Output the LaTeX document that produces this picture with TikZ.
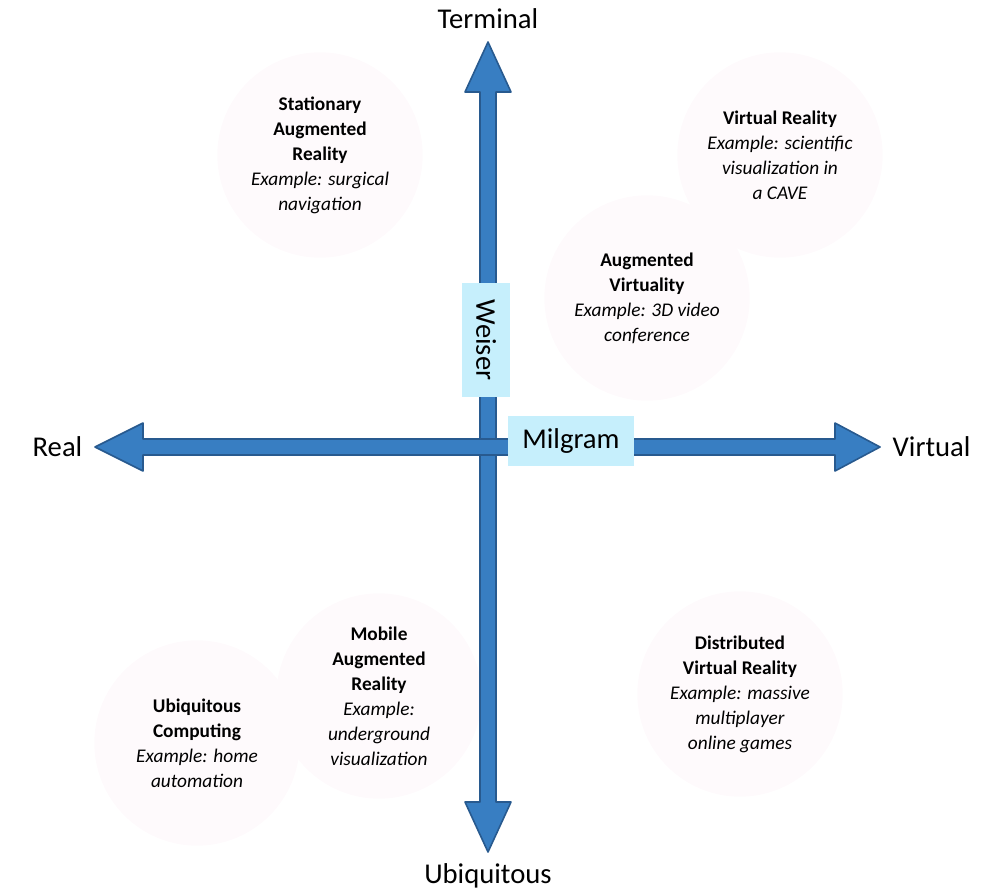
\documentclass[tikz,border=0pt]{standalone}
\usepackage{fontspec}
\setmainfont{Carlito}
\usetikzlibrary{positioning,calc}

\definecolor{axisblue}{RGB}{56,126,194}
\definecolor{axisedge}{RGB}{40,90,143}
\definecolor{tagcyan}{RGB}{198,239,252}
\definecolor{bubblefill}{RGB}{254,250,252}

\begin{document}
\begin{tikzpicture}[x=0.75pt, y=-0.75pt,
  bubble/.style={circle, fill=bubblefill, inner sep=0pt, minimum size=154pt, align=center, font=\fontsize{14.5}{18.75}\selectfont},
  axislabel/.style={font=\fontsize{21.5}{26}\selectfont},
  tagbox/.style={fill=tagcyan, inner sep=0pt, font=\fontsize{21.5}{26}\selectfont},
  axisarrow/.style={fill=axisblue, draw=axisedge, line width=1.2pt, line join=round}]
  \useasboundingbox (0,0) rectangle (987,891);

  % quadrant bubbles
  \node[bubble] (sar) at (320,155) {\textbf{Stationary}\\ \textbf{Augmented}\\ \textbf{Reality}\\ \textit{Example: surgical}\\ \textit{navigation}};
  \node[bubble] (vr) at (780,155) {\textbf{Virtual Reality}\\ \textit{Example: scientific}\\ \textit{visualization in}\\ \textit{a CAVE}};
  \node[bubble] (av) at (647,298) {\textbf{Augmented}\\ \textbf{Virtuality}\\ \textit{Example: 3D video}\\ \textit{conference}};
  \node[bubble] (ubc) at (197,743) {\textbf{Ubiquitous}\\ \textbf{Computing}\\ \textit{Example: home}\\ \textit{automation}};
  \node[bubble] (mar) at (379,696) {\textbf{Mobile}\\ \textbf{Augmented}\\ \textbf{Reality}\\ \textit{Example:}\\ \textit{underground}\\ \textit{visualization}};
  \node[bubble] (dvr) at (740,694) {\textbf{Distributed}\\ \textbf{Virtual Reality}\\ \textit{Example: massive}\\ \textit{multiplayer}\\ \textit{online games}};

  % axes
  \coordinate (top) at (488,42);
  \coordinate (bottom) at (488,852);
  \coordinate (left) at (95,447);
  \coordinate (right) at (880,447);
  \draw[axisarrow] (top) -- ++(23,50) -- ++(-15,0) -- ($(bottom)+(8,-50)$) -- ++(15,0) -- (bottom)
    -- ++(-23,-50) -- ++(15,0) -- ($(top)+(-8,50)$) -- ++(-15,0) -- cycle;
  \draw[axisarrow] (left) -- ++(48,-24) -- ++(0,16) -- ($(right)+(-45,-8)$) -- ++(0,-16) -- (right)
    -- ++(-45,24) -- ++(0,-16) -- ($(left)+(48,8)$) -- ++(0,16) -- cycle;

  \node[axislabel, above=6.5pt of top] (terminal) {Terminal};
  \node[axislabel, below=5pt of bottom] (ubiq) {Ubiquitous};
  \node[axislabel, left=6pt of left] (real) {Real};
  \node[axislabel, right=6pt of right] (virtual) {Virtual};

  \node[tagbox, rotate=-90, minimum width=86pt, minimum height=36pt] (weiser) at (486,340) {Weiser};
  \node[tagbox, minimum width=95pt, minimum height=38pt] (milgram) at (571,441) {Milgram};
\end{tikzpicture}
\end{document}
